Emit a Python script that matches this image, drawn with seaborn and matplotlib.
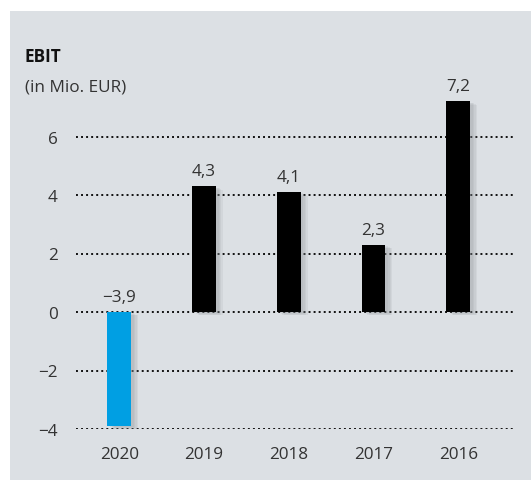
import matplotlib
matplotlib.use("Agg")
import matplotlib.pyplot as plt
import matplotlib.patheffects as pe
from matplotlib.patches import Rectangle
import seaborn as sns
import pandas as pd

# data
years = ["2020", "2019", "2018", "2017", "2016"]
ebit = [-3.9, 4.3, 4.1, 2.3, 7.2]
bar_colors = ["#009fe3", "#000000", "#000000", "#000000", "#000000"]
yticks = [-4, -2, 0, 2, 4, 6]

sns.set_style("white")
plt.rcParams["font.family"] = ["Open Sans", "DejaVu Sans"]
txt = "#333333"
bg = "#dce0e4"
fs = 12.3

fig = plt.figure(figsize=(5.31, 4.81), dpi=100)
fig.patch.set_facecolor("white")
# grey panel behind the chart
fig.patches.append(Rectangle((10 / 531, 0), 1, (481 - 12) / 481,
                             transform=fig.transFigure, facecolor=bg,
                             edgecolor="none", zorder=-10))

ax = fig.add_axes([76 / 531, 51 / 481, (515 - 76) / 531, (430 - 79) / 481])
ax.set_facecolor("none")

df = pd.DataFrame({"year": years, "ebit": ebit})
sns.barplot(data=df, x="year", y="ebit", hue="year", palette=bar_colors,
            width=0.28, legend=False, ax=ax, zorder=3, saturation=1,
            edgecolor="none", linewidth=0)

# soft shadow on the right side of the bars
shadow = [pe.SimplePatchShadow(offset=(d, -d * 0.5), shadow_rgbFace="#8a9096",
                               alpha=0.12) for d in (5, 4, 3, 2)]
for p in ax.patches:
    p.set_path_effects(shadow + [pe.Normal()])

for i, v in enumerate(ebit):
    lab = f"{v:.1f}".replace(".", ",").replace("-", "\u2212")
    y = max(v, 0)
    ax.annotate(lab, (i, y), xytext=(0, 5), textcoords="offset points",
                ha="center", va="bottom", fontsize=fs, color=txt)

for t in yticks:
    ax.axhline(t, color="#111111", linestyle=(0, (1, 1.6)), linewidth=1.4,
               zorder=1)

ax.set_xlim(-0.51, 4.67)
ax.set_ylim(-4, 8)
ax.set_yticks(yticks)
ax.set_yticklabels([str(t).replace("-", "\u2212") for t in yticks])
ax.tick_params(axis="y", length=0, pad=13, labelsize=fs, labelcolor=txt)
ax.tick_params(axis="x", length=0, pad=12, labelsize=fs, labelcolor=txt)
ax.set_xlabel("")
ax.set_ylabel("")
sns.despine(ax=ax, left=True, bottom=True)

fig.text(25 / 531, 1 - 57 / 481, "EBIT", fontsize=fs, fontweight="bold",
         color="#111111", va="center", ha="left")
fig.text(25 / 531, 1 - 87 / 481, "(in Mio. EUR)", fontsize=fs,
         color=txt, va="center", ha="left")

fig.savefig("out.png", dpi=100)
